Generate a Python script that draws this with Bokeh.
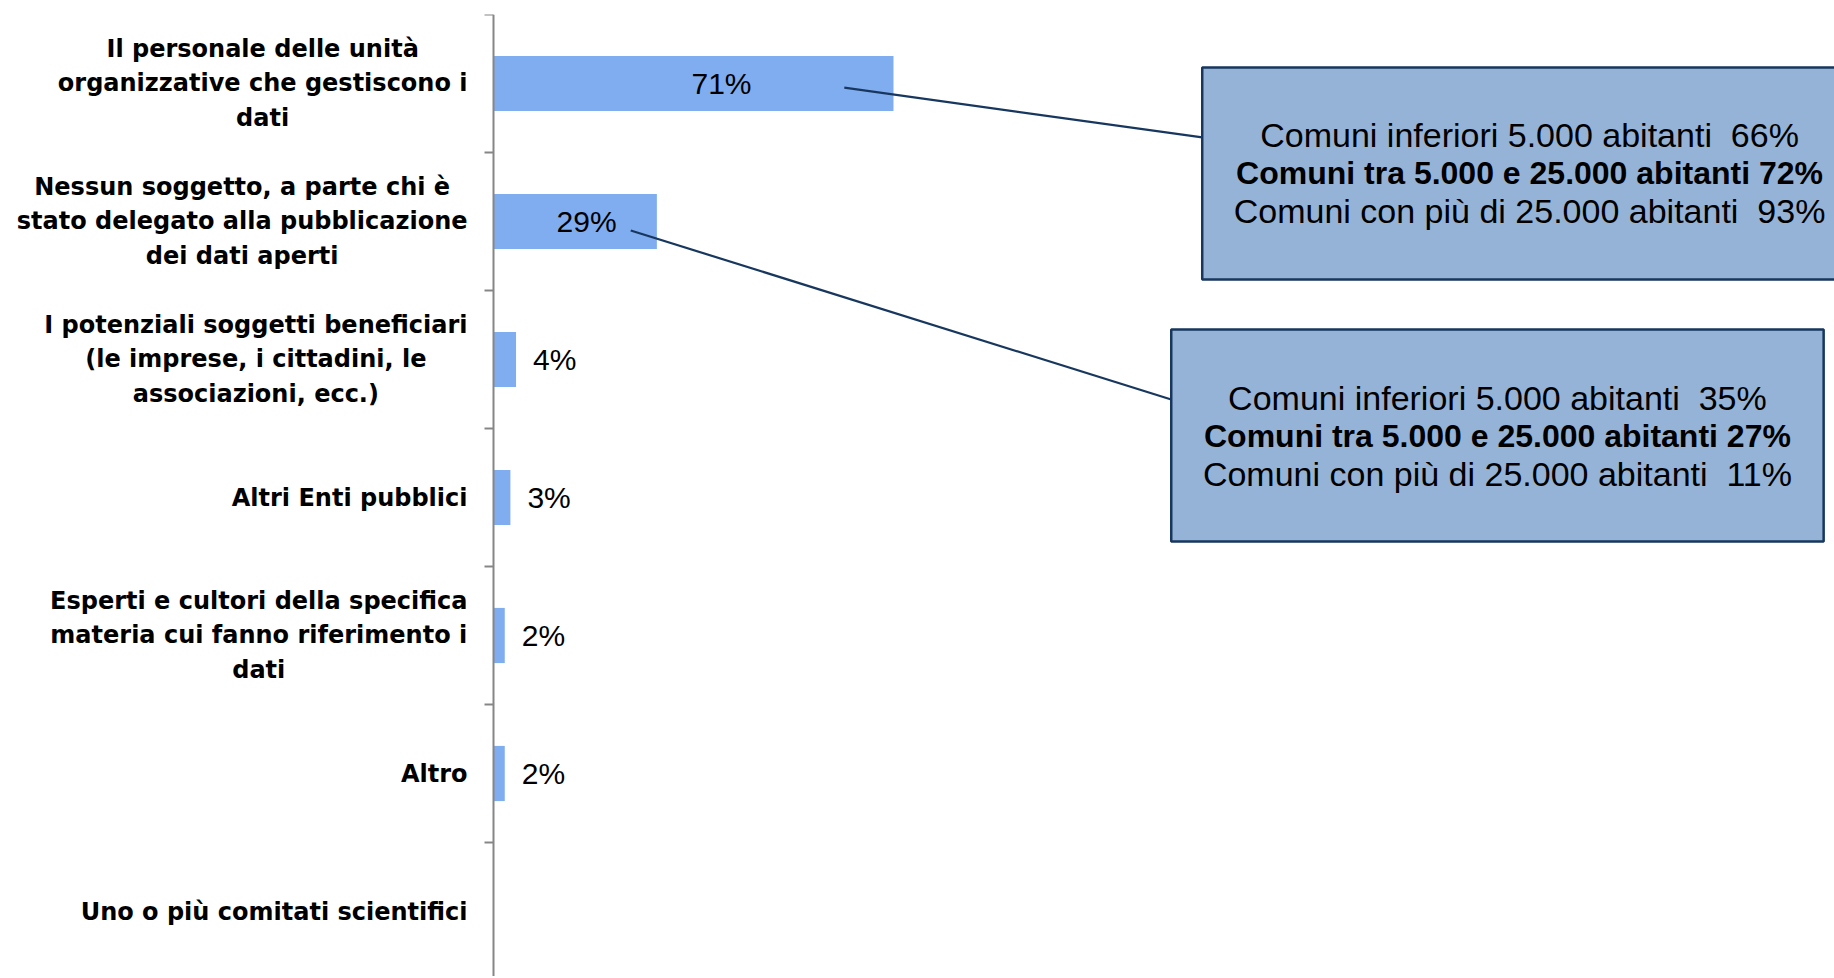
from bokeh.plotting import figure
from bokeh.models import Range1d, Span
from bokeh.core.properties import value
from bokeh.embed import file_html
from bokeh.resources import INLINE

# ---------------- data ----------------
categories = [
    "Il personale delle unità\norganizzative che gestiscono i\ndati",
    "Nessun soggetto, a parte chi è\nstato delegato alla pubblicazione\ndei dati aperti",
    "I potenziali soggetti beneficiari\n(le imprese, i cittadini, le\nassociazioni, ecc.)",
    "Altri Enti pubblici",
    "Esperti e cultori della specifica\nmateria cui fanno riferimento i\ndati",
    "Altro",
    "Uno o più comitati scientifici",
]
values = [71, 29, 4, 3, 2, 2, 0]

callout_groups = [
    "Comuni inferiori 5.000 abitanti",
    "Comuni tra 5.000 e 25.000 abitanti",
    "Comuni con più di 25.000 abitanti",
]
callout_personale = [66, 72, 93]   # detail for category 0
callout_nessuno = [35, 27, 11]     # detail for category 1

# ---------------- layout ----------------
PX_PER_PCT = 400 / 71
FIG_W, FIG_H = 1834, 976
TOP = 14
FRAME_H = FIG_H - TOP
ROW = 138
AXIS_PX = 493

BAR_COLOR = "#80ADF0"
AXIS_COLOR = "#868686"
BOX_FILL = "#95B3D7"
NAVY = "#17375E"

n = len(categories)
centers = [i + 0.5 for i in range(n)]

p = figure(
    width=FIG_W, height=FIG_H,
    x_range=Range1d(-AXIS_PX / PX_PER_PCT, (FIG_W - AXIS_PX) / PX_PER_PCT),
    y_range=Range1d(FRAME_H / ROW, 0),
    output_backend="svg", toolbar_location=None,
    x_axis_location=None, y_axis_location=None,
    min_border_left=0, min_border_right=0, min_border_top=TOP, min_border_bottom=0,
)
p.outline_line_color = None
p.grid.visible = False
p.background_fill_color = "white"
p.border_fill_color = "white"

# category axis: vertical line with tick marks between categories
p.add_layout(Span(location=0, dimension="height", line_color=AXIS_COLOR, line_width=2))
p.ray(x=[0] * (n + 1), y=list(range(n + 1)), length=9, length_units="screen",
      angle=180, angle_units="deg", line_color=AXIS_COLOR, line_width=2)

# bars
p.hbar(y=centers, left=0, right=values, height=0.4, fill_color=BAR_COLOR, line_color=None)

# category labels
p.text(x=[0] * n, y=centers, text=categories, x_offset=-26,
       anchor="center_right", text_align="center", text_baseline="middle",
       text_font=value("DejaVu Sans"), text_font_style="bold", text_font_size="24px",
       text_line_height=1.23, text_color="black")

# value labels
inside = [(c, v) for c, v in zip(centers, values) if v >= 10]
outside = [(c, v) for c, v in zip(centers, values) if 0 < v < 10]
p.text(x=[v * 0.57 for c, v in inside], y=[c for c, v in inside],
       text=[f"{v}%" for c, v in inside], text_align="center", text_baseline="middle",
       text_font=value("Liberation Sans"), text_font_size="30px", text_color="black")
p.text(x=[v for c, v in outside], y=[c for c, v in outside],
       text=[f"{v}%" for c, v in outside], x_offset=17, text_align="left", text_baseline="middle",
       text_font=value("Liberation Sans"), text_font_size="30px", text_color="black")

# callout boxes
boxes = [
    dict(left=125.8, right=260.0, top=0.384, bottom=1.92, data=callout_personale,
         lx=71 * 0.877, ly=0.53, ey=0.891, cx=183.9),
    dict(left=120.3, right=236.1, top=2.283, bottom=3.819, data=callout_nessuno,
         lx=29 * 0.84, ly=1.565, ey=2.79, cx=178.2),
]
for b in boxes:
    p.segment(x0=[b["lx"]], y0=[b["ly"]], x1=[b["left"]], y1=[b["ey"]],
              line_color=NAVY, line_width=2.2)
    p.quad(left=[b["left"]], right=[b["right"]], top=[b["top"]], bottom=[b["bottom"]],
           fill_color=BOX_FILL, line_color=NAVY, line_width=2.5)
    cy = (b["top"] + b["bottom"]) / 2
    reg_idx = [0, 2]
    p.text(x=[b["cx"]] * 2, y=[cy] * 2, y_offset=[-38, 38],
           text=[f"{callout_groups[i]}\u00a0 {b['data'][i]}%" for i in reg_idx],
           text_align="center", text_baseline="middle",
           text_font=value("Liberation Sans"), text_font_size="34px", text_color="black")
    p.text(x=[b["cx"]], y=[cy], text=[f"{callout_groups[1]} {b['data'][1]}%"],
           text_align="center", text_baseline="middle",
           text_font=value("Liberation Sans"), text_font_style="bold",
           text_font_size="32px", text_color="black")

open("out.html", "w").write(file_html(p, INLINE))
